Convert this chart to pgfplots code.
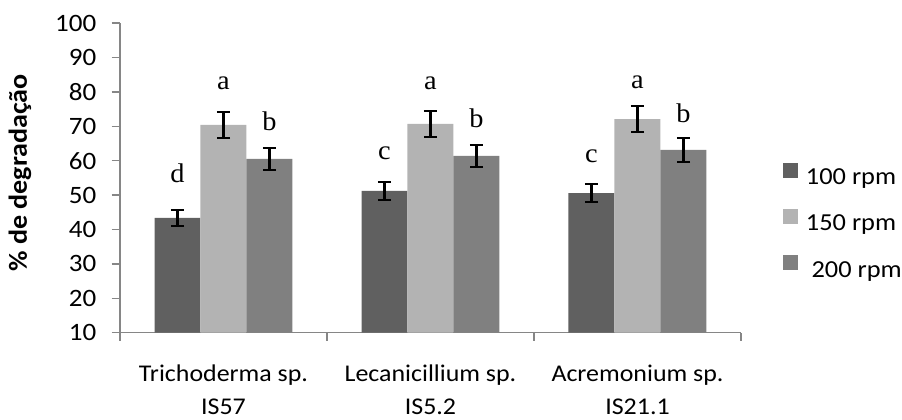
\documentclass[border=0pt]{standalone}
\usepackage{pgfplots}
\pgfplotsset{compat=1.18}
\usepackage{fontspec}
\setmainfont{Carlito}[FakeStretch=1.08]
\newfontfamily\lserif{Liberation Serif}[FakeStretch=1.05]
\definecolor{c100}{HTML}{606060}
\definecolor{c150}{HTML}{B3B3B3}
\definecolor{c200}{HTML}{808080}
\definecolor{axgray}{HTML}{868686}
\pgfplotsset{
  errstyle/.style={error bars/.cd, y dir=both, y explicit,
    error bar style={black, line width=1.3pt},
    error mark options={rotate=90, black, mark size=3.3pt, line width=1pt}},
}
\begin{document}
\begin{tikzpicture}
\begin{axis}[
  at={(0,0)}, anchor=south west,
  width=310.5pt, height=154.85pt, scale only axis,
  xmin=-0.5, xmax=2.5, ymin=10, ymax=100,
  axis x line*=bottom, axis y line*=left,
  axis line style={axgray, line width=0.7pt},
  tick align=outside,
  ytick={10,20,...,100},
  major tick length=4.2pt,
  minor tick length=4pt,
  xtick={0,1,2},
  minor xtick={-0.5,0.5,1.5,2.5},
  major x tick style={draw=none},
  minor x tick style={axgray, line width=0.7pt},
  y tick style={axgray, line width=0.7pt},
  xticklabels={{Trichoderma sp.\\IS57},{Lecanicillium sp.\\IS5.2},{Acremonium sp.\\IS21.1}},
  xticklabel style={anchor=north, inner sep=0pt, align=center, font=\fontsize{12}{16.5}\selectfont, yshift=-11.5pt},
  yticklabel style={anchor=east, inner sep=0pt, font=\fontsize{12.5}{14}\selectfont, xshift=-7.5pt},
  /pgf/number format/assume math mode=true,
  ylabel={\% de degradação},
  every axis y label/.style={at={(axis description cs:-0.161,0.516)}, rotate=90, anchor=center, font=\bfseries\fontsize{13}{15}\selectfont},
  legend style={at={(1.0676,0.354)}, anchor=west, draw=none, fill=none, inner sep=0pt, outer sep=0pt,
    row sep=9.2pt, nodes={inner sep=0pt, text height=9pt, text depth=3pt}, font=\fontsize{12.2}{14}\selectfont},
  legend cell align=left,
]
\addplot[ybar, bar width=0.2222, bar shift=0, fill=c100, draw=none,
  legend image code/.code={\fill[c100] (0pt,0.35pt) rectangle (7.5pt,7.85pt); \path (11.5pt,0pt);},
  errstyle]
  coordinates {(-0.2222,43.4) +- (0,2.4) (0.7778,51.2) +- (0,2.7) (1.7778,50.6) +- (0,2.7)};
\addplot[ybar, bar width=0.2222, bar shift=0, fill=c150, draw=none,
  legend image code/.code={\fill[c150] (0pt,0.35pt) rectangle (7.5pt,7.85pt); \path (11.5pt,0pt);},
  errstyle]
  coordinates {(0,70.4) +- (0,3.7) (1,70.7) +- (0,3.7) (2,72.1) +- (0,3.8)};
\addplot[ybar, bar width=0.2222, bar shift=0, fill=c200, draw=none,
  legend image code/.code={\fill[c200] (0pt,0.35pt) rectangle (7.5pt,7.85pt); \path (11.5pt,0pt);},
  errstyle]
  coordinates {(0.2222,60.5) +- (0,3.2) (1.2222,61.4) +- (0,3.1) (2.2222,63.1) +- (0,3.4)};
\addplot[draw=none, mark=none, forget plot, nodes near coords, point meta=explicit symbolic,
  every node near coord/.append style={anchor=base, inner sep=0pt, black, font=\lserif\fontsize{13.5}{15}\selectfont}]
  coordinates {(-0.2222,53.6) [d] (0,80.6) [a] (0.2222,68.9) [b]
               (0.7778,60.2) [c] (1,80.7) [a] (1.2222,69.5) [b]
               (1.7778,59.6) [c] (2,80.9) [a] (2.2222,71) [b]};
\legend{100 rpm, 150 rpm, \hspace{2.8pt}200 rpm}
\end{axis}
\pgfresetboundingbox
\path[use as bounding box] (-60pt,-43.15pt) rectangle (391pt,166.35pt);
\end{tikzpicture}
\end{document}
